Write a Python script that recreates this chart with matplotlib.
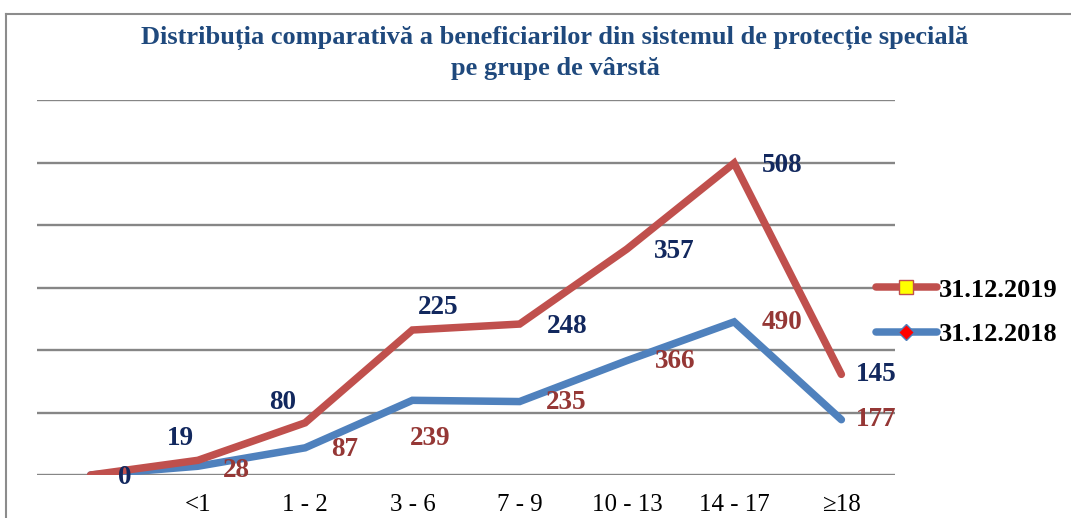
import matplotlib
matplotlib.use('Agg')
import matplotlib.pyplot as plt
from matplotlib.lines import Line2D
import numpy as np

categories = ['', '<1', '1 - 2', '3 - 6', '7 - 9', '10 - 13', '14 - 17', '≥18']
values_2019 = [0, 19, 80, 225, 248, 357, 508, 145]
values_2018 = [0, 28, 87, 239, 235, 366, 490, 177]
series_names = ['31.12.2019', '31.12.2018']
title = ('Distribuția comparativă a beneficiarilor din sistemul de protecție specială\n'
         'pe grupe de vârstă')

# label offsets (pixels) relative to each point -- layout only
off_2019 = [(34, -2), (-17, 22), (-22, 20), (26, 23), (48, -2), (47, -2), (48, -2), (35, 0)]
off_2018 = [None, (39, -4), (39, -2), (18, -38), (47, -1), (48, -1), (48, -1), (35, 0)]

plt.rcParams['font.family'] = ['Liberation Serif', 'DejaVu Serif']

W, H = 1071, 518
fig = plt.figure(figsize=(W / 100, H / 100), dpi=100)

# outer frame (top and left edges visible)
fig.add_artist(Line2D([6 / W, 1.01], [1 - 14 / H, 1 - 14 / H], transform=fig.transFigure,
                      color='#8C8C8C', lw=1.5))
fig.add_artist(Line2D([6 / W, 6 / W], [1 - 14 / H, -0.01], transform=fig.transFigure,
                      color='#8C8C8C', lw=1.5))

ax = fig.add_axes([37 / W, (H - 475) / H, 858 / W, 375 / H])
x = np.arange(len(categories))
v18 = np.array(values_2018)
v19 = np.array(values_2019)
top = v18 + v19  # stacked line chart

blue = '#4F81BD'
red = '#C0504D'
LW = 5.4
ax.plot(x, v18, color=blue, lw=LW, solid_capstyle='round', solid_joinstyle='miter', zorder=3)
ax.plot(x, top, color=red, lw=LW, solid_capstyle='round', solid_joinstyle='miter', zorder=4)

ax.set_xlim(-0.5, len(categories) - 0.5)
ax.set_ylim(0, 1200)
ax.set_yticks(np.arange(0, 1201, 200))
ax.yaxis.grid(True, color='#868686', lw=1.7)
ax.set_yticklabels([])
ax.tick_params(axis='y', length=0)
ax.set_xticks(x)
ax.set_xticklabels(categories)
ax.tick_params(axis='x', length=0, pad=14, labelsize=18, labelcolor='black')
for s in ax.spines.values():
    s.set_visible(False)
ax.set_axisbelow(True)

navy = '#12285E'
dred = '#953735'
for i in range(len(categories)):
    o = off_2019[i]
    if o is not None:
        ax.annotate(str(values_2019[i]), (x[i], top[i]), xytext=o, textcoords='offset pixels',
                    ha='center', va='center', fontsize=19.5, fontweight='bold', color=navy,
                    annotation_clip=False, zorder=6)
    o = off_2018[i]
    if o is not None:
        ax.annotate(str(values_2018[i]), (x[i], v18[i]), xytext=o, textcoords='offset pixels',
                    ha='center', va='center', fontsize=19.5, fontweight='bold', color=dred,
                    annotation_clip=False, zorder=6)

fig.text(555 / W, 1 - 53 / H, title, ha='center', va='center', fontsize=19,
         fontweight='bold', color='#1F497D', linespacing=1.35)

handles = [
    Line2D([], [], color=red, lw=LW, solid_capstyle='round', marker='s', markersize=10.5,
           markerfacecolor='#FFFF00', markeredgecolor=red, markeredgewidth=1),
    Line2D([], [], color=blue, lw=LW, solid_capstyle='round', marker='D', markersize=8,
           markerfacecolor='#FF0000', markeredgecolor=blue, markeredgewidth=1),
]
fig.legend(handles, series_names, loc='center left', bbox_to_anchor=(876 / W, 1 - 312 / H),
           frameon=False, handlelength=2.3, handletextpad=0.1, labelspacing=0.78,
           borderpad=0, borderaxespad=0, prop=dict(weight='bold', size=19))

fig.savefig('out.png', dpi=100)
